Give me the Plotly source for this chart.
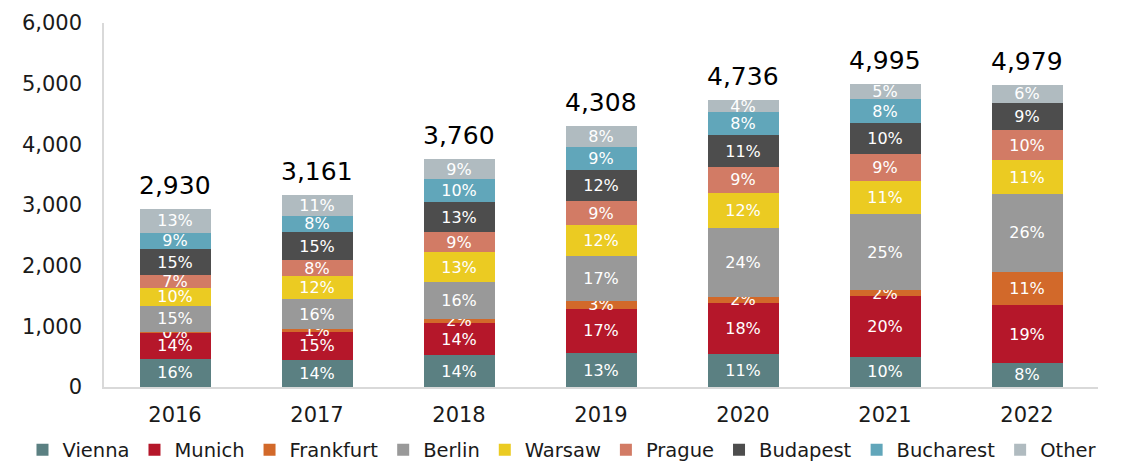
import plotly.graph_objects as go

years = ["2016", "2017", "2018", "2019", "2020", "2021", "2022"]
totals = [2930, 3161, 3760, 4308, 4736, 4995, 4979]

series_names = ["Vienna", "Munich", "Frankfurt", "Berlin", "Warsaw", "Prague", "Budapest", "Bucharest", "Other"]

vienna = [469, 443, 526, 560, 540, 500, 398]
munich = [427, 474, 526, 732, 852, 997, 946]
frankfurt = [6, 32, 75, 129, 95, 100, 548]
berlin = [440, 506, 602, 732, 1137, 1249, 1295]
warsaw = [293, 379, 489, 517, 577, 549, 548]
prague = [205, 253, 338, 388, 426, 450, 498]
budapest = [440, 474, 489, 517, 521, 500, 448]
bucharest = [264, 253, 376, 388, 379, 400, 0]
other = [386, 347, 339, 345, 209, 250, 298]

vienna_pct = [16, 14, 14, 13, 11, 10, 8]
munich_pct = [14, 15, 14, 17, 18, 20, 19]
frankfurt_pct = [0, 1, 2, 3, 2, 2, 11]
berlin_pct = [15, 16, 16, 17, 24, 25, 26]
warsaw_pct = [10, 12, 13, 12, 12, 11, 11]
prague_pct = [7, 8, 9, 9, 9, 9, 10]
budapest_pct = [15, 15, 13, 12, 11, 10, 9]
bucharest_pct = [9, 8, 10, 9, 8, 8, None]
other_pct = [13, 11, 9, 8, 4, 5, 6]

colors = ["#5B8082", "#B5172A", "#D2692A", "#999999", "#EBCB22",
          "#D27B65", "#4D4D4D", "#61A6BA", "#B0BBC0"]

values = [vienna, munich, frankfurt, berlin, warsaw, prague, budapest, bucharest, other]
pcts = [vienna_pct, munich_pct, frankfurt_pct, berlin_pct, warsaw_pct, prague_pct,
        budapest_pct, bucharest_pct, other_pct]

FONT = "Verdana, DejaVu Sans, sans-serif"

fig = go.Figure()
for name, vals, pc, col in zip(series_names, values, pcts, colors):
    fig.add_trace(go.Bar(
        x=years, y=vals, name=name,
        marker=dict(color=col, line=dict(width=0)),
        text=["" if p is None else f"{p}%" for p in pc],
        textposition="inside", insidetextanchor="middle", textangle=0,
        textfont=dict(color="white", size=16, family=FONT),
        hoverinfo="skip",
    ))

# total labels above each stack (x given as category index)
for i, t in enumerate(totals):
    fig.add_annotation(x=i, y=t, xref="x", yref="y", text=f"{t:,}", showarrow=False,
                       yanchor="bottom", yshift=7,
                       font=dict(size=25, color="#000000", family=FONT))

# margins compensate for the page's default 8px body offset
fig.update_layout(
    barmode="stack", bargap=0.5,
    width=1145, height=464,
    margin=dict(l=96, r=55, t=15, b=85, autoexpand=False),
    plot_bgcolor="white", paper_bgcolor="white",
    font=dict(family=FONT, size=21, color="#1a1a1a"),
    uniformtext=dict(minsize=16, mode="show"),
    showlegend=True,
    legend=dict(orientation="h", xref="paper", yref="paper",
                x=-0.082, xanchor="left", y=-0.173, yanchor="middle",
                font=dict(size=19.5, family=FONT), itemwidth=30, tracegroupgap=0,
                traceorder="normal"),
    xaxis=dict(type="category", categoryorder="array", categoryarray=years,
               showline=True, linecolor="#D9D9D9", linewidth=1.5,
               ticks="", tickfont=dict(size=21), showgrid=False, ticklabelstandoff=8),
    yaxis=dict(range=[0, 6000], tickvals=[0, 1000, 2000, 3000, 4000, 5000, 6000],
               tickformat=",", showline=True, linecolor="#D9D9D9", linewidth=1.5,
               ticks="", showgrid=False, zeroline=False, tickfont=dict(size=21),
               ticklabelstandoff=16),
)

fig.write_html("out.html")
